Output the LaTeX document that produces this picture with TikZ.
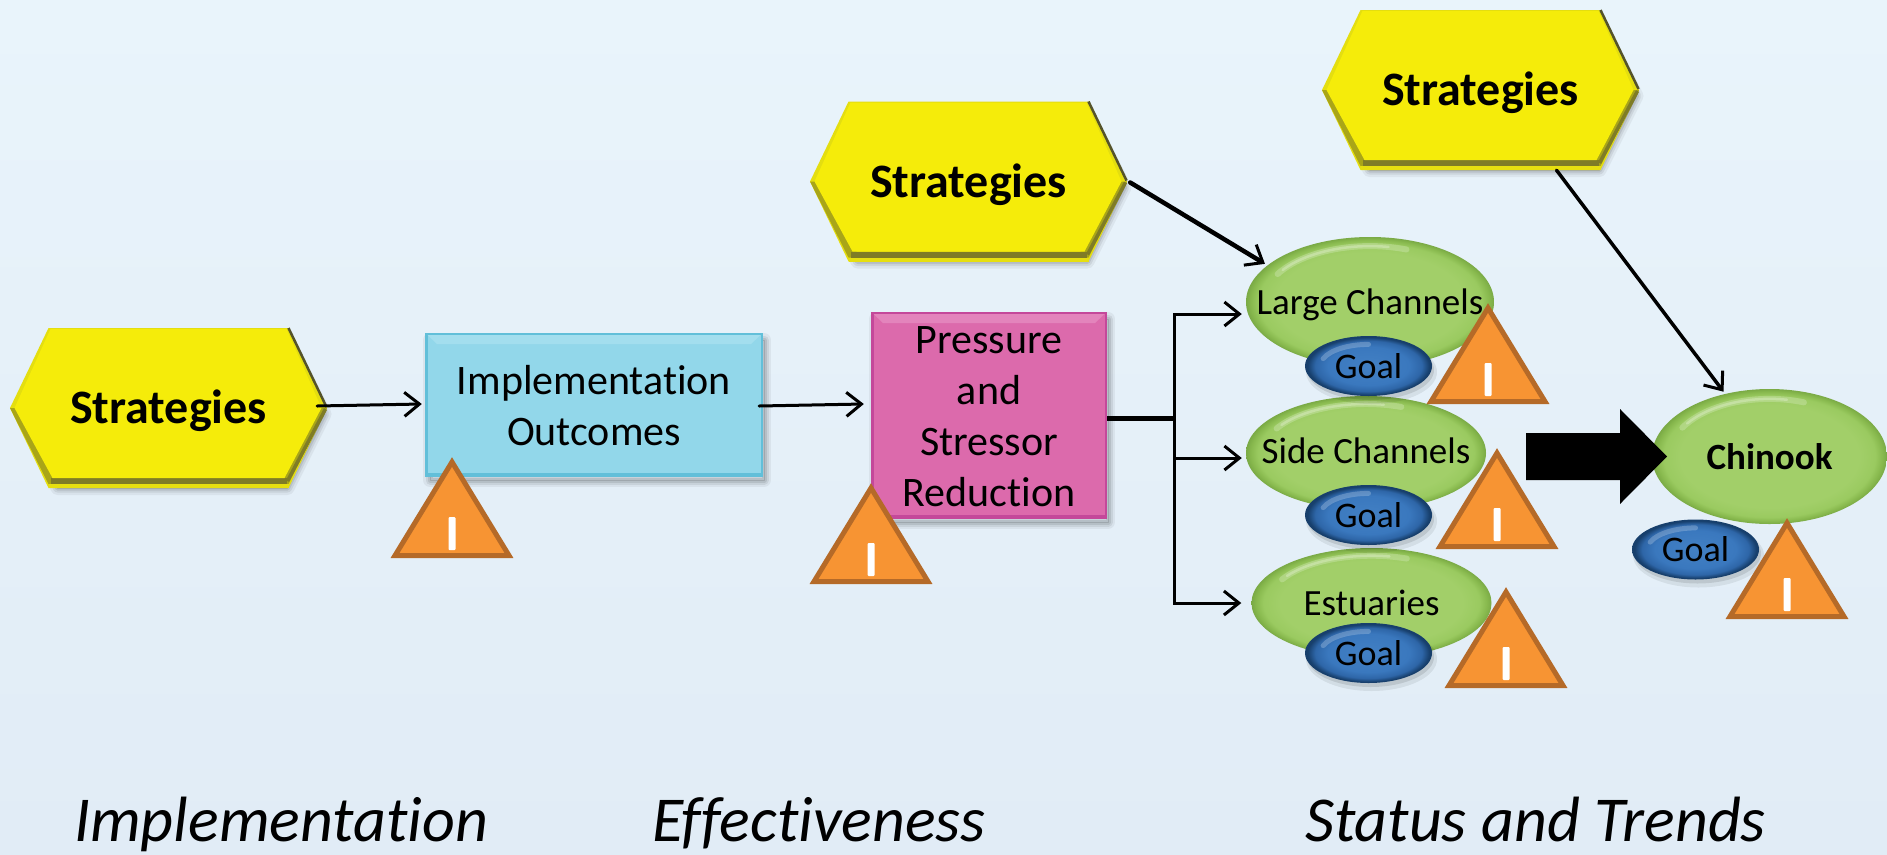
\documentclass[tikz,border=0pt]{standalone}
\usepackage{fontspec}
\setmainfont{Carlito}[Ligatures=NoCommon]
\usetikzlibrary{arrows.meta,shapes.geometric}
\definecolor{bgtop}{HTML}{E9F4FB}
\definecolor{bgbot}{HTML}{E1ECF6}
\definecolor{gA}{HTML}{A2CF69}
\definecolor{gB}{HTML}{9ACA60}
\definecolor{gC}{HTML}{88B94E}
\definecolor{gD}{HTML}{7AAA45}
\definecolor{bA}{HTML}{4280C4}
\definecolor{bB}{HTML}{3A78BE}
\definecolor{bC}{HTML}{2E66A8}
\definecolor{bD}{HTML}{173F6C}
\definecolor{hexface}{HTML}{F5EC0A}
\definecolor{hexrim}{HTML}{E4DE10}
\definecolor{hexlow}{HTML}{A9A518}
\definecolor{hexband}{HTML}{7F7C26}
\definecolor{hexdark}{HTML}{55532A}
\definecolor{hexyel}{HTML}{E6DF10}
\definecolor{blueface}{HTML}{92D7EA}
\definecolor{blueedge}{HTML}{62BFD9}
\definecolor{bluelite}{HTML}{A3DEEE}
\definecolor{pinkface}{HTML}{DC6AAC}
\definecolor{pinkedge}{HTML}{C4489A}
\definecolor{pinklite}{HTML}{E384BC}
\definecolor{warnfill}{HTML}{F79433}
\definecolor{warnedge}{HTML}{B56A28}
\pgfdeclareradialshading{greenball}{\pgfpoint{0bp}{0bp}}{color(0bp)=(gA);color(19bp)=(gA);color(22.5bp)=(gB);color(24bp)=(gC);color(25bp)=(gD);color(50bp)=(gD)}
\pgfdeclareradialshading{blueball}{\pgfpoint{0bp}{0bp}}{color(0bp)=(bA);color(16bp)=(bB);color(21bp)=(bC);color(24bp)=(bD);color(25bp)=(bD);color(50bp)=(bD)}
\tikzset{
  x=1pt,y=-1pt,
  hextxt/.style={font=\fontsize{48}{56}\selectfont\bfseries,inner sep=0,text=black,minimum width=317,minimum height=160},
  boxtxt/.style={font=\fontsize{42}{51}\selectfont,align=center,inner sep=0,text=black},
  groupell/.style={ellipse,shade,shading=greenball,inner sep=0,text=black},
  goalell/.style={ellipse,shade,shading=blueball,inner sep=0,minimum width=127,minimum height=60,text=black,font=\fontsize{36}{40}\selectfont},
  lnk/.style={draw=black,line width=3,line cap=round,-{Straight Barb[length=15pt,width=24pt,line width=3pt]}},
  sidelabel/.style={font=\fontsize{64}{70}\selectfont\itshape,anchor=base west,inner sep=0,text=black},
}
% text with its baseline a given distance below the node centre
\newcommand\lowtxt[2]{\makebox[0pt]{\raisebox{-#1pt}[0pt][0pt]{#2}}}
% soft shadow of a closed path
\newcommand\softshadow[1]{%
  \foreach \w/\o in {14/.05,9/.07,5/.09,1/.12}{\draw[line width=\w,black,opacity=\o,line join=round] #1;}}
% hexagon: centre x, y, name
\newcommand\hexbody[3]{%
  \begin{scope}[shift={(#1,#2)}]
    \begin{scope}[shift={(4,6)}]\softshadow{(-152,0)--(-115,-74)--(115,-74)--(152,0)--(115,74)--(-115,74)--cycle}
    \fill[black,opacity=.3] (-152,0)--(-115,-74)--(115,-74)--(152,0)--(115,74)--(-115,74)--cycle;\end{scope}
    \fill[hexrim] (-158.5,0)--(-120,-80)--(120,-80)--(158.5,0)--(120,80)--(-120,80)--cycle;
    \fill[hexlow] (-158.5,0)--(-120,76)--(120,76)--(158.5,0)--(152,0)--(112,70)--(-112,70)--(-152,0)--cycle;
    \fill[hexyel] (-120,76) rectangle (120,80);
    \fill[hexband] (-118,70) rectangle (118,76);
    \draw[line width=2.5,hexdark] (120,-80)--(158,-1);
    \draw[line width=3.5,hexband] (157,1)--(119,73);
    \fill[hexface] (-154,0)--(-118,-79)--(118,-79)--(153,0)--(116,70)--(-116,70)--cycle;
    \node[hextxt] (#3) at (0,0) {\lowtxt{15.5}{Strategies}};
  \end{scope}}
% rectangle bevel: x1,y1,x2,y2,face,edge,highlight
\newcommand\bevelrect[7]{%
  \begin{scope}[shift={(3,5)}]\softshadow{(#1+2,#2+2) rectangle (#3-2,#4-2)}\end{scope}
  \fill[#6] (#1,#2) rectangle (#3,#4);
  \fill[#5] (#1+2.5,#2+2) rectangle (#3-2.5,#4-4);
  \fill[#7] (#1+2.5,#2+2) -- (#3-2.5,#2+2) -- (#3-12,#2+11) -- (#1+12,#2+11) -- cycle;
}
% warning triangle: apex x, apex y
\newcommand\warn[2]{%
  \begin{scope}[shift={(#1,#2)}]
    \fill[fill=warnfill,draw=warnedge,line width=5,line join=miter] (0,5)--(57,98.5)--(-57,98.5)--cycle;
    \fill[white,rounded corners=1] (-3.5,60) rectangle (3.5,93);
  \end{scope}}
% highlight on a green oval: cx,cy,rx,ry
\newcommand\glint[4]{%
  \draw[white!70!gA,line width=6,line cap=round,opacity=.3] (#1,#2) ++(-150:#3*.86 and #4*.86) arc[start angle=-150,end angle=-70,x radius=#3*.86,y radius=#4*.86];
  \draw[white!70!gA,line width=2.5,line cap=round,opacity=.4] (#1,#2) ++(-145:#3*.86 and #4*.86) arc[start angle=-145,end angle=-80,x radius=#3*.86,y radius=#4*.86];
}
\newcommand\goalglint[4]{%
  \draw[white!60!bA,line width=5,line cap=round,opacity=.35] (#1,#2) ++(-160:#3*.76 and #4*.72) arc[start angle=-160,end angle=-90,x radius=#3*.76,y radius=#4*.72];
}
\newcommand\goalshadow[4]{%
  \fill[black,opacity=.07] (#1+3,#2+6) ellipse[x radius=#3+2,y radius=#4+2];
  \fill[black,opacity=.10] (#1+2,#2+4) ellipse[x radius=#3,y radius=#4];
}
\begin{document}
\begin{tikzpicture}
\useasboundingbox (0,0) rectangle (1887,854);
\shade[top color=bgtop,bottom color=bgbot] (0,0) rectangle (1887,854);

% hexagons
\hexbody{168.5}{408}{hexA}
\hexbody{968.5}{181.5}{hexB}
\hexbody{1480.5}{90}{hexC}

% boxes
\bevelrect{425}{333}{763}{477}{blueface}{blueedge}{bluelite}
\node[boxtxt,minimum width=338,minimum height=144] (impl) at (594,406) {Implementation\\Outcomes};
\bevelrect{871}{312}{1107}{519}{pinkface}{pinkedge}{pinklite}
\node[boxtxt,minimum width=236,minimum height=205] (press) at (989,417) {Pressure\\and\\Stressor\\Reduction};

% green ovals
\node[groupell,minimum width=248,minimum height=130,font=\fontsize{37}{44}\selectfont] (large) at (1370,302) {\lowtxt{12}{Large Channels}};
\glint{1370}{302}{124}{65}
\node[groupell,minimum width=240,minimum height=114,font=\fontsize{37}{44}\selectfont] (side) at (1366,453) {\lowtxt{10}{Side Channels}};
\glint{1366}{453}{120}{57}
\node[groupell,minimum width=240,minimum height=110,font=\fontsize{37}{44}\selectfont] (estu) at (1371.5,603) {\lowtxt{12}{Estuaries}};
\glint{1371.5}{603}{120}{55}
\node[groupell,minimum width=235,minimum height=135,font=\fontsize{37}{44}\selectfont\bfseries] (chin) at (1769.5,456.5) {\lowtxt{12.5}{Chinook}};
\glint{1769.5}{456.5}{117}{67}

% goals
\goalshadow{1368.5}{366}{63.5}{30}
\node[goalell] (goalA) at (1368.5,366) {\lowtxt{12}{Goal}};
\goalglint{1368.5}{366}{63.5}{30}
\goalshadow{1368.5}{515}{63.5}{30}
\node[goalell] (goalB) at (1368.5,515) {\lowtxt{12}{Goal}};
\goalglint{1368.5}{515}{63.5}{30}
\goalshadow{1368.5}{653}{63.5}{30}
\node[goalell] (goalC) at (1368.5,653) {\lowtxt{12}{Goal}};
\goalglint{1368.5}{653}{63.5}{30}
\goalshadow{1695.5}{549.5}{63.5}{30}
\node[goalell] (goalD) at (1695.5,549.5) {\lowtxt{12}{Goal}};
\goalglint{1695.5}{549.5}{63.5}{30}

% warning triangles
\warn{452}{457}
\warn{871}{483}
\warn{1488}{303}
\warn{1497}{448}
\warn{1506}{587}
\warn{1787}{518}

% connectors
\draw[lnk] ([xshift=-10pt,yshift=2pt]hexA.east) -- ([xshift=-3pt,yshift=2pt]impl.west);
\draw[lnk] ([xshift=-4pt]impl.east) -- ([xshift=-7pt,yshift=13pt]press.west);
\draw[lnk,line width=4.5] ([xshift=3pt,yshift=-1pt]hexB.east) -- ([xshift=-3pt,yshift=1pt]large.160);
\draw[lnk,line width=3.5] ([xshift=76pt]hexC.south) -- ([xshift=-2pt,yshift=2pt]chin.125);
\coordinate (trunk) at (1174,418);
\draw[line width=5] (press.east |- trunk) -- (trunk);
\draw[lnk] (trunk) |- ([xshift=-4pt,yshift=-12pt]large.west);
\draw[lnk] (trunk) |- ([xshift=-4pt,yshift=-5pt]side.west);
\draw[lnk] (trunk) |- ([xshift=-10pt]estu.west);

% block arrow
\fill[black] (1526,433) -- (1620,433) -- (1620,409) -- (1667,456.5) -- (1620,504) -- (1620,480) -- (1526,480) -- cycle;

% phase labels
\node[sidelabel] (labA) at (74,841) {Implementation};
\node[sidelabel] (labB) at (652,841) {Effectiveness};
\node[sidelabel] (labC) at (1305,841) {Status and Trends};
\end{tikzpicture}
\end{document}
